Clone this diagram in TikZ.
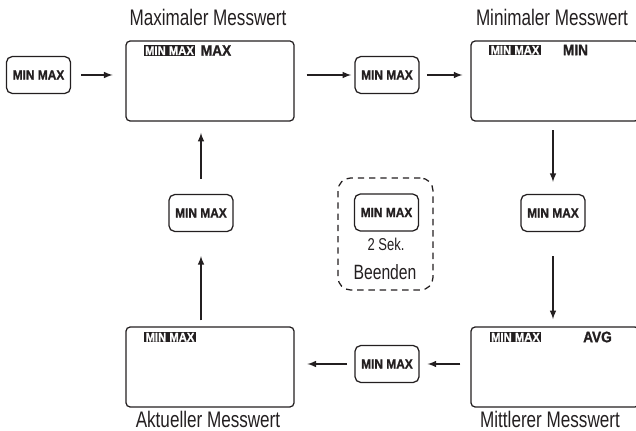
\documentclass[tikz,border=0pt]{standalone}
\usepackage{fontspec}
\setmainfont[FakeStretch=0.76]{Liberation Sans}
\newfontfamily\lcdfont[FakeStretch=0.9, FakeBold=1.2, UprightFont={Liberation Sans Bold}]{Liberation Sans}
\usepackage{tikz}
\usetikzlibrary{arrows,shapes,positioning}
\usepackage{xcolor}
\definecolor{inkgray}{RGB}{35,31,32}
\tikzstyle{arrow} = [line width=1.1pt,->,>=latex,color=inkgray]
\tikzstyle{display} = [draw=inkgray, line width=0.9pt, rounded corners=3pt, minimum width=4.2cm, minimum height=2cm, inner sep=0pt]
\tikzstyle{key} = [draw=inkgray, line width=0.9pt, rounded corners=4pt, minimum width=1.6cm, minimum height=0.92cm, inner sep=0pt, text=inkgray, font=\lcdfont\fontsize{9.4}{11}\selectfont]
\tikzstyle{lcdtag} = [fill=inkgray, text=white, inner xsep=1pt, inner ysep=0pt, text height=7.1pt, text depth=0.7pt, font=\lcdfont\fontsize{8.9}{10}\selectfont]
\tikzstyle{lcdmode} = [text=inkgray, inner sep=0pt, font=\lcdfont\fontsize{10.8}{12}\selectfont]
\tikzstyle{caption} = [text=inkgray, inner sep=0pt, font=\fontsize{16}{18}\selectfont]

\begin{document}
\begin{tikzpicture}[x=0.025cm, y=-0.025cm]
\useasboundingbox (0,0) rectangle (636,431);

% Top row
\node[key] (keyStart) at (38.5,75) {MIN MAX};
\node[display] (dispMax) at (210,81) {};
\node[caption] (capMax) at (208,17) {Maximaler Messwert};
\node[lcdtag] (tagMax) at (169.5,50.5) {MIN MAX};
\node[lcdmode] (modeMax) at (216,50.5) {MAX};

\node[key] (keyTop) at (387,75) {MIN MAX};
\node[display] (dispMin) at (555,81) {};
\node[caption] (capMin) at (552,17) {Minimaler Messwert};
\node[lcdtag] (tagMin) at (515,50) {MIN MAX};
\node[lcdmode] (modeMin) at (575.5,50) {MIN};

% Right column
\node[key] (keyRight) at (553,213) {MIN MAX};

% Bottom row
\node[display] (dispAvg) at (555,367) {};
\node[caption] (capAvg) at (550,419) {Mittlerer Messwert};
\node[lcdtag] (tagAvg) at (515.5,337) {MIN MAX};
\node[lcdmode] (modeAvg) at (597.5,337) {AVG};

\node[key] (keyBottom) at (387,364) {MIN MAX};
\node[display] (dispNow) at (210,367) {};
\node[caption] (capNow) at (208,419) {Aktueller Messwert};
\node[lcdtag] (tagNow) at (170,337) {MIN MAX};

% Left column
\node[key] (keyLeft) at (201,213) {MIN MAX};

% Quit
\node[draw=inkgray, line width=0.9pt, dash pattern=on 4.5pt off 3.5pt, rounded corners=9pt,
      minimum width=2.375cm, minimum height=2.8cm] (quitFrame) at (385.5,234) {};
\node[key] (keyQuit) at (386.5,212.5) {MIN MAX};
\node[text=inkgray, inner sep=0pt, font=\fontsize{12.2}{14}\selectfont] (quitTime) at (386,244) {2 Sek.};
\node[text=inkgray, inner sep=0pt, font=\fontsize{14.7}{16}\selectfont] (quitText) at (385,272) {Beenden};

% Arrows
\draw[arrow, shorten <=0.25cm, shorten >=0.32cm] (keyStart.east) -- (dispMax.west |- keyStart.east);
\draw[arrow, shorten <=0.3cm, shorten >=0.08cm] (dispMax.east |- keyTop.west) -- (keyTop.west);
\draw[arrow, shorten <=0.18cm, shorten >=0.2cm] (keyTop.east) -- (dispMin.west |- keyTop.east);
\draw[arrow, shorten <=0.22cm, shorten >=0.3cm] (keyRight.north |- dispMin.south) -- (keyRight.north);
\draw[arrow, shorten <=0.6cm, shorten >=0.18cm] (keyRight.south) -- (keyRight.south |- dispAvg.north);
\draw[arrow, shorten <=0.25cm, shorten >=0.2cm] (dispAvg.west |- keyBottom.east) -- (keyBottom.east);
\draw[arrow, shorten <=0.18cm, shorten >=0.32cm] (keyBottom.west) -- (dispNow.east |- keyBottom.west);
\draw[arrow, shorten <=0.15cm, shorten >=0.6cm] (keyLeft.south |- dispNow.north) -- (keyLeft.south);
\draw[arrow, shorten <=0.38cm, shorten >=0.28cm] (keyLeft.north) -- (keyLeft.north |- dispMax.south);
\end{tikzpicture}
\end{document}
